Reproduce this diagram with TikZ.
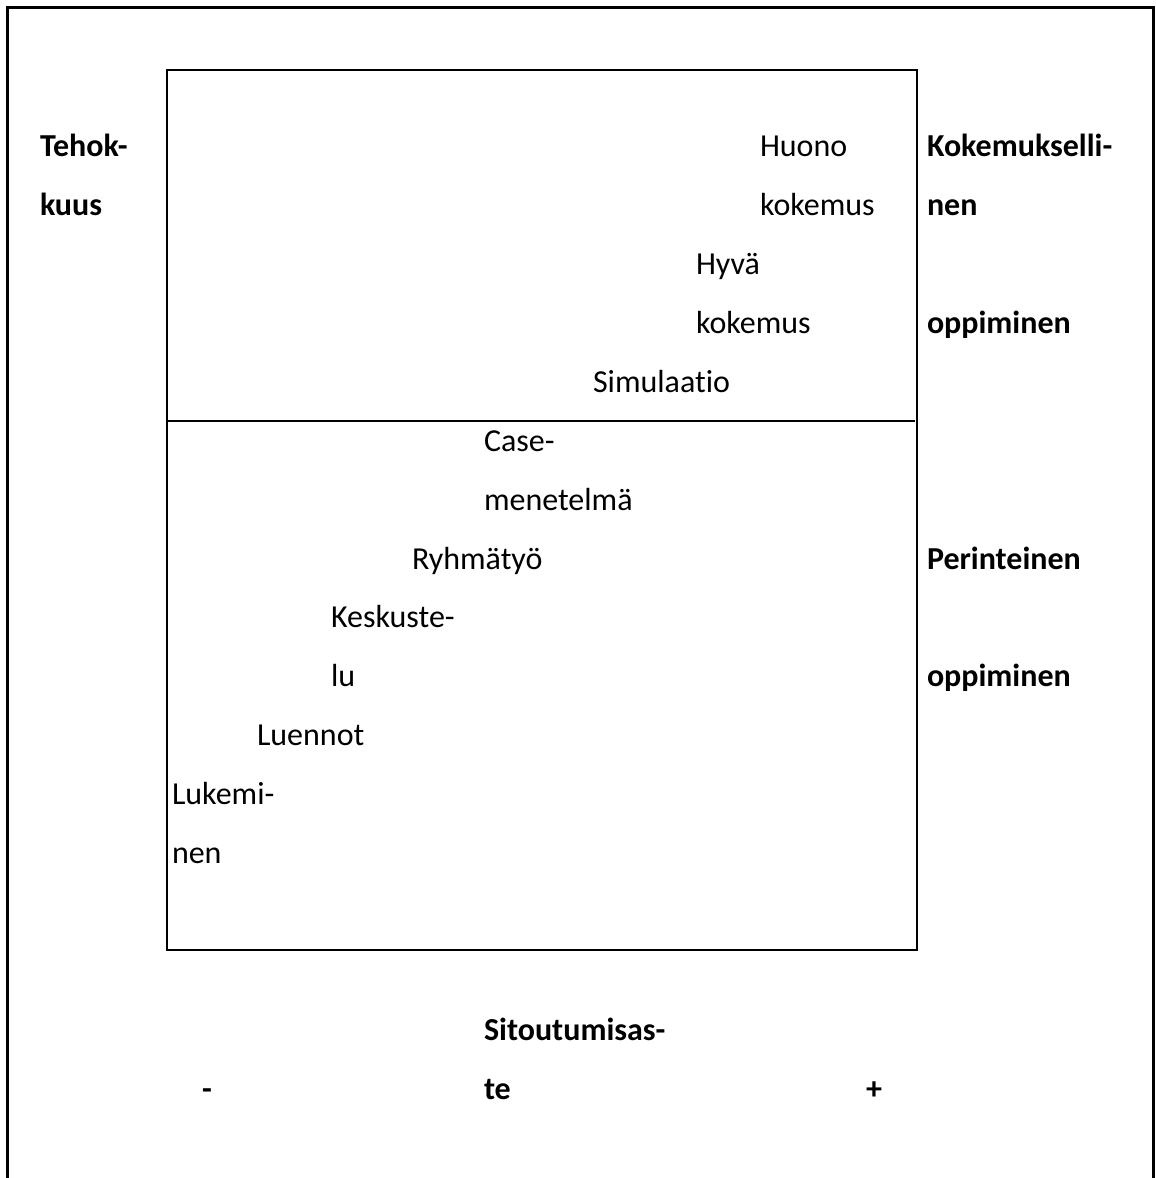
\documentclass[tikz,border=0pt]{standalone}
\usepackage{fontspec}
\setmainfont[Ligatures=NoCommon]{Carlito}
\usetikzlibrary{positioning}

\begin{document}
\begin{tikzpicture}[
    x=1pt, y=-1pt,
    font=\fontsize{32}{38}\selectfont,
    %% ── Text styles ─────────────────────────────────────────────────────
    word/.style={
        inner sep=0pt, outer sep=0pt,
        anchor=base west,
    },
    axislbl/.style={
        word,
        font=\fontsize{32}{38}\selectfont\bfseries,
    },
    %% ── Line styles ─────────────────────────────────────────────────────
    frameline/.style={line width=3pt},
    boxline/.style={line width=2pt},
]

\useasboundingbox (0,0) rectangle (1156,1178);

%%─────────────────────────────────────────────────────────────────────────
%% Frame (open at the bottom) and the field
%%─────────────────────────────────────────────────────────────────────────
\coordinate (frameBL) at (7.5,1178);
\coordinate (frameTL) at (7.5,7.5);
\coordinate (frameTR) at (1153.5,7.5);
\coordinate (frameBR) at (1153.5,1178);
\draw[frameline] (frameBL) -- (frameTL) -- (frameTR) -- (frameBR);

\node[draw, boxline, inner sep=0pt, minimum width=750pt, minimum height=880pt,
      anchor=north west] (field) at (165.5,68.5) {};
\coordinate (splitW) at (165.5,421);
\coordinate (splitE) at (915,421);
\draw[boxline] (splitW) -- (splitE);

%%─────────────────────────────────────────────────────────────────────────
%% Axis labels
%%─────────────────────────────────────────────────────────────────────────
\node[axislbl] (tehok1) at (40,156) {Tehok-};
\node[axislbl] (tehok2) at (40,215) {kuus};

\node[axislbl] (koke1) at (927,156) {Kokemukselli-};
\node[axislbl] (koke2) at (927,215) {nen};
\node[axislbl] (koke3) at (927,333) {oppiminen};

\node[axislbl] (peri1) at (927,569) {Perinteinen};
\node[axislbl] (peri2) at (927,686.5) {oppiminen};

\node[axislbl] (sito1) at (484,1040) {Sitoutumisas-};
\node[axislbl] (sito2) at (484,1099) {te};
\node[axislbl] (minus) at (202,1099) {-};
\node[axislbl] (plus)  at (866,1099) {+};

%%─────────────────────────────────────────────────────────────────────────
%% Methods, from bottom left to top right
%%─────────────────────────────────────────────────────────────────────────
\node[word] (huono1) at (760,156) {Huono};
\node[word] (huono2) at (760,215) {kokemus};

\node[word] (hyva1) at (696,274) {Hyvä};
\node[word] (hyva2) at (696,333) {kokemus};

\node[word] (simu) at (593,392) {Simulaatio};

\node[word] (case1) at (484,451) {Case-};
\node[word] (case2) at (484,510) {menetelmä};

\node[word] (ryhma) at (412,569) {Ryhmätyö};

\node[word] (kesk1) at (331,627.5) {Keskuste-};
\node[word] (kesk2) at (331,686.5) {lu};

\node[word] (luen) at (257,745) {Luennot};

\node[word] (luke1) at (172,804) {Lukemi-};
\node[word] (luke2) at (172,863) {nen};

\end{tikzpicture}
\end{document}
